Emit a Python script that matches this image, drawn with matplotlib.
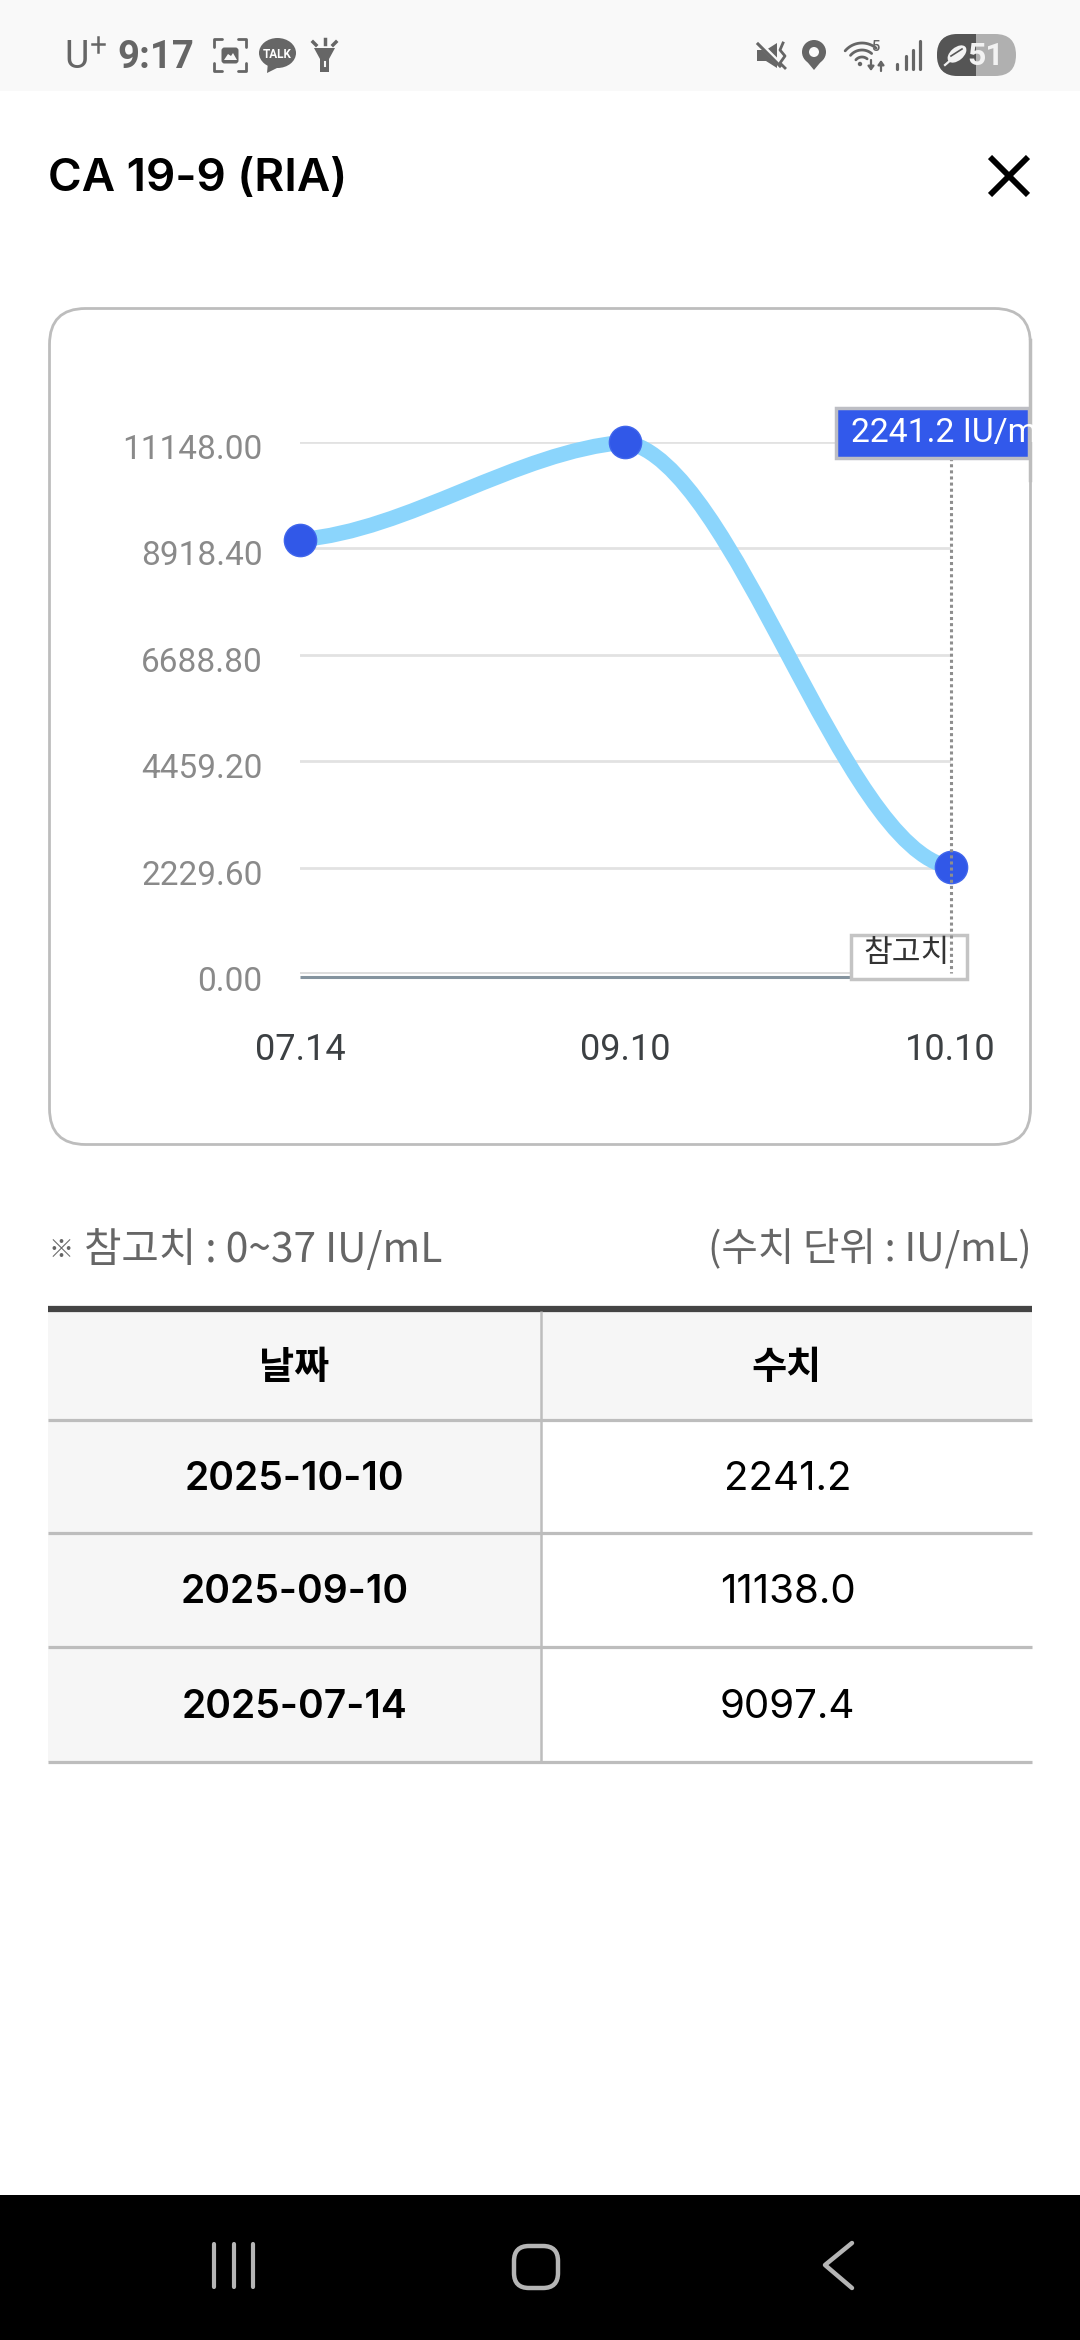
import matplotlib
matplotlib.use('Agg')
import matplotlib.pyplot as plt
from matplotlib.patches import Rectangle, FancyBboxPatch, Circle, Ellipse, Polygon, PathPatch
from matplotlib.path import Path
from matplotlib.transforms import ScaledTranslation
import numpy as np

plt.rcParams['font.family'] = ['Roboto', 'Noto Sans CJK KR', 'DejaVu Sans']

dates = ['07.14', '09.10', '10.10']
values = [9097.4, 11138.0, 2241.2]
y_ticks = [0, 2229.6, 4459.2, 6688.8, 8918.4, 11148]
y_labels = ['0.00', '2229.60', '4459.20', '6688.80', '8918.40', '11148.00']
ref_low = 0
ref_high = 37
table_head = ['날짜', '수치']
table_dates = ['2025-10-10', '2025-09-10', '2025-07-14']
table_vals = ['2241.2', '11138.0', '9097.4']

KR = ['Noto Sans CJK KR', 'DejaVu Sans']
W, H = 1080, 2340

fig = plt.figure(figsize=(W/100, H/100), dpi=100, facecolor='white')

# page in pixel coordinates
bg = fig.add_axes([0, 0, 1, 1])
bg.set_xlim(0, W)
bg.set_ylim(H, 0)
bg.axis('off')

# status bar
bar = '#f9f9f9'
grey = '#666666'
bg.add_patch(Rectangle((0, 0), W, 91, fc=bar, ec='none'))
bg.text(64, 57, 'U', fontsize=27, color=grey, va='center', family=['Roboto'])
bg.plot([98, 98], [37, 52], color=grey, lw=1.8)
bg.plot([92, 104], [44, 44], color=grey, lw=1.8)
bg.text(117, 57, '9:17', fontsize=27.5, color=grey, va='center', family=['Roboto'], fontweight='bold')
# screenshot icon
for sx, sy in [(1, 1), (-1, 1), (1, -1), (-1, -1)]:
    cx, cy = 230 + sx*16, 55 + sy*16
    bg.plot([cx, cx, cx - sx*8], [cy - sy*8, cy, cy], color=grey, lw=2, solid_capstyle='round')
bg.add_patch(FancyBboxPatch((224, 50), 12, 11, boxstyle='round,pad=2.5,rounding_size=3', fc=grey, ec='none'))
bg.add_patch(Polygon([[224, 60], [228, 54], [231, 56], [233, 53], [237, 60]], fc=bar, ec='none'))
# talk bubble
bg.add_patch(Ellipse((277.5, 53), 37, 30, fc=grey, ec='none'))
bg.add_patch(Polygon([[268, 62], [267, 73], [281, 66]], fc=grey, ec='none'))
bg.text(277.5, 54, 'TALK', fontsize=8.5, color='white', ha='center', va='center', family=['Roboto'], fontweight='bold')
# flashlight
bg.add_patch(Polygon([[314, 48], [335, 48], [329, 59], [329, 72], [320, 72], [320, 59]], fc=grey, ec='none'))
bg.plot([324.5, 324.5], [62, 66], color=bar, lw=1.5)
bg.plot([324.5, 324.5], [39, 44], color=grey, lw=2.5)
bg.plot([313, 316], [42, 45], color=grey, lw=2.5)
bg.plot([336, 333], [42, 45], color=grey, lw=2.5)
# mute
bg.add_patch(Polygon([[757, 50], [766, 50], [777, 43], [777, 68], [766, 61], [757, 61]], fc=grey, ec='none'))
bg.plot([758, 782], [42, 66], color=bar, lw=3.5)
bg.plot([758, 780], [44, 66], color=grey, lw=2.2)
bg.plot([783, 780, 785, 780, 785], [43, 50, 56, 63, 68], color=grey, lw=2)
# location pin
bg.add_patch(Polygon([[804, 58], [824, 58], [814, 70]], fc=grey, ec='none'))
bg.add_patch(Circle((814, 52), 12, fc=grey, ec='none'))
bg.add_patch(Circle((814, 52), 5, fc=bar, ec='none'))
# wifi
for r in [22, 15, 8]:
    t = np.radians(np.linspace(-140, -50, 20))
    bg.plot(862 + r*np.cos(t), 65 + r*np.sin(t), color=grey, lw=2, solid_capstyle='round')
bg.add_patch(Circle((860, 64), 2.2, fc=grey, ec='none'))
bg.text(875, 47, '5', fontsize=10.5, color=grey, va='center', ha='center', family=['Roboto'], fontweight='medium')
for ax_x, y0, y1 in [(871, 60, 71), (881, 71, 60)]:
    bg.annotate('', xy=(ax_x, y1), xytext=(ax_x, y0), arrowprops=dict(arrowstyle='-|>,head_width=0.18,head_length=0.25', color=grey, lw=1.6, shrinkA=0, shrinkB=0))
# signal
for sx, top in zip([897, 906, 913, 920], [64, 56, 50, 41]):
    bg.plot([sx, sx], [top, 69], color=grey, lw=2.3, solid_capstyle='round')
# battery
light = FancyBboxPatch((937, 34), 79, 42, boxstyle='round,pad=0,rounding_size=21', fc='#b0b0b0', ec='none')
bg.add_patch(light)
dark = FancyBboxPatch((937, 34), 79, 42, boxstyle='round,pad=0,rounding_size=21', fc='#555555', ec='none')
bg.add_patch(dark)
dark.set_clip_path(Rectangle((937, 34), 39, 42, transform=bg.transData))
bg.text(986, 56, '51', fontsize=23, color='#f2f2f2', ha='center', va='center', family=['Roboto'], fontweight='bold')
bg.add_patch(Ellipse((957, 54), 22, 13, angle=-40, fc='#f2f2f2', ec='none'))
bg.plot([945, 960], [65, 52], color='#f2f2f2', lw=1.6)
bg.plot([951, 962], [56, 49], color='#555555', lw=1.2)

# header
bg.text(48, 179, 'CA 19-9 (RIA)', fontsize=33, color='black', va='center', family=['Inter'], fontweight='semibold')
bg.plot([990, 1028], [157, 195], color='black', lw=4.2, solid_capstyle='butt')
bg.plot([990, 1028], [195, 157], color='black', lw=4.2, solid_capstyle='butt')

# chart card
bg.add_patch(FancyBboxPatch((49.5, 308.5), 981, 836, boxstyle='round,pad=0,rounding_size=36',
                            fc='white', ec='#bdbdbd', lw=2))

# chart axes
ax_left, ax_right, ax_top, ax_bottom = 300, 950.5, 441.7, 974
ax = fig.add_axes([ax_left/W, 1 - ax_bottom/H, (ax_right - ax_left)/W, (ax_bottom - ax_top)/H])
ax.patch.set_alpha(0)
x = np.arange(len(dates))
ax.set_xlim(0, 2)
ax.set_ylim(0, 11148)
for s in ax.spines.values():
    s.set_visible(False)
ax.set_yticks(y_ticks)
ax.set_yticklabels(y_labels)
ax.set_xticks(x)
ax.set_xticklabels(dates)
ax.tick_params(axis='y', length=0, pad=27, labelsize=24, labelcolor='#8a8a8a')
ax.tick_params(axis='x', length=0, pad=42, labelsize=26, labelcolor='#3c4043')
down = ScaledTranslation(0, -8/100, fig.dpi_scale_trans)
for lab in ax.get_yticklabels():
    lab.set_va('center')
    lab.set_transform(lab.get_transform() + down)
ax.grid(axis='y', color='#e2e2e2', lw=2)
ax.set_axisbelow(True)

# reference band at the bottom of the chart
ax.fill_between([0, 2], ref_low, ref_high, color='#dddddd', lw=0, clip_on=False)
below = ax.transData + ScaledTranslation(0, -2.7/100, fig.dpi_scale_trans)
ax.plot([0, 2], [ref_low, ref_low], color='#84939e', lw=2.2, clip_on=False, transform=below, solid_capstyle='butt')

# spline through the points, slopes at the ends of each segment
slope_out = [0.05, -0.10]
slope_in = [0.05, -0.10]
scale = y_ticks[-1]
verts = [(x[0], values[0])]
codes = [Path.MOVETO]
for i in range(len(x) - 1):
    h = (x[i+1] - x[i]) / 3
    verts.append((x[i] + h, values[i] + slope_out[i]*scale*h))
    verts.append((x[i+1] - h, values[i+1] - slope_in[i]*scale*h))
    verts.append((x[i+1], values[i+1]))
    codes += [Path.CURVE4, Path.CURVE4, Path.CURVE4]
ax.add_patch(PathPatch(Path(verts, codes), fc='none', ec='#8bd5fc', lw=11, capstyle='butt', clip_on=False, zorder=3))
ax.scatter(x, values, s=540, c='#3158e8', edgecolors='#4066ec', linewidths=1, clip_on=False, zorder=4)

# crosshair and labels
ax.plot([2, 2], [0, 11148], color='#8e8e8e', lw=2.2, ls=(0, (1, 1)), clip_on=False, zorder=5)
bg2 = fig.add_axes([0, 0, 1, 1], facecolor='none')
bg2.set_xlim(0, W)
bg2.set_ylim(H, 0)
bg2.axis('off')
bg2.add_patch(Rectangle((836, 408), 193, 50, fc='#3259eb', ec='#bdbec4', lw=2.5))
txt = bg2.text(851, 433, '%.1f IU/mL' % values[2], fontsize=24.3, color='white', va='center', family=['Roboto'])
txt.set_clip_path(Rectangle((836, 408), 193, 50, transform=bg2.transData))
bg2.plot([1030.3, 1030.3], [340, 480], color='#bdbdbd', lw=2.5)
bg2.add_patch(Rectangle((851, 935), 116, 44, fc='white', ec='#c4c4c4', lw=2.5))
bg2.text(907, 953, '참고치', fontsize=22.5, color='#333333', ha='center', va='center', family=KR)
bg2.plot([950.5, 950.5], [935, 973], color='#8e8e8e', lw=2.2, ls=(0, (1, 1)))

# note row
bg2.text(48, 1250, '※', fontsize=18, fontweight='bold', color='#666666', va='center', family=KR)
bg2.text(84, 1250, '참고치 : %d~%d IU/mL' % (ref_low, ref_high), fontsize=29.3, color='#666666', va='center', family=KR)
bg2.text(1032, 1250, '(수치 단위 : IU/mL)', fontsize=28.5, color='#666666', va='center', ha='right', family=KR)

# table
col_x = [48, 541, 1032]
row_y = [1311, 1420, 1533, 1647, 1762]
bg2.add_patch(Rectangle((48, row_y[0]), 493, row_y[-1] - row_y[0], fc='#f6f6f6', ec='none'))
bg2.add_patch(Rectangle((541, row_y[0]), 491, row_y[1] - row_y[0], fc='#f6f6f6', ec='none'))
bg2.plot([48, 1032], [1309, 1309], color='#444444', lw=4.5, solid_capstyle='butt')
for ry in row_y[1:]:
    bg2.plot([48, 1032], [ry, ry], color='#bdbdbd', lw=2.3, solid_capstyle='butt')
bg2.plot([541, 541], [row_y[0], row_y[-1]], color='#bdbdbd', lw=1.8, solid_capstyle='butt')
c1, c2 = (col_x[0] + col_x[1])/2, (col_x[1] + col_x[2])/2
bg2.text(c1, 1368, table_head[0], fontsize=27.5, fontweight='bold', color='black', ha='center', va='center', family=KR)
bg2.text(c2, 1368, table_head[1], fontsize=27.5, fontweight='bold', color='black', ha='center', va='center', family=KR)
for i in range(3):
    cy = (row_y[i+1] + row_y[i+2]) / 2 + 2.5
    bg2.text(c1, cy, table_dates[i], fontsize=28, fontweight='semibold', color='black', ha='center', va='center', family=['Inter'])
    bg2.text(c2 + 1, cy, table_vals[i], fontsize=29, color='black', ha='center', va='center', family=['Inter'])

# nav bar
bg2.add_patch(Rectangle((0, 2195), W, 145, fc='black', ec='none'))
for nx in [214, 234, 253]:
    bg2.plot([nx, nx], [2244, 2287], color='#b5b5b5', lw=3, solid_capstyle='round')
bg2.add_patch(FancyBboxPatch((514, 2246), 44, 42, boxstyle='round,pad=0,rounding_size=15', fc='none', ec='#b5b5b5', lw=3.2))
bg2.plot([852, 825, 852], [2243, 2265, 2288], color='#b5b5b5', lw=3.2, solid_capstyle='round', solid_joinstyle='round')

fig.savefig('out.png', dpi=100)
